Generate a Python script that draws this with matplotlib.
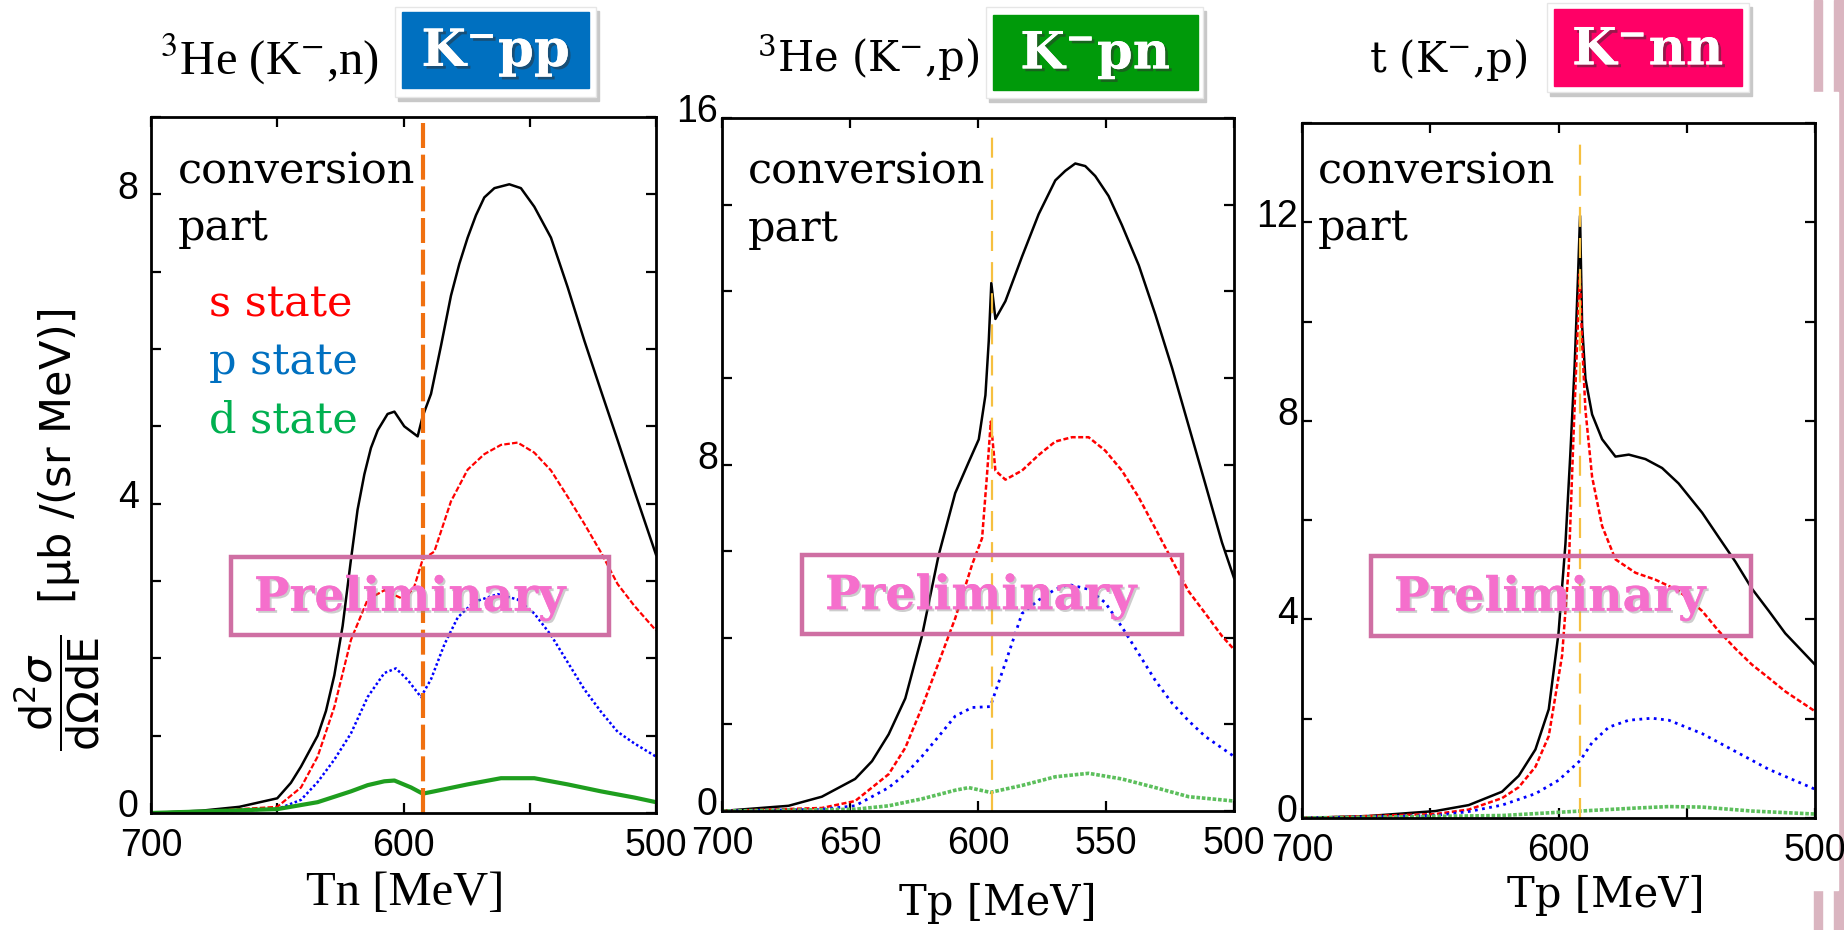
import matplotlib
matplotlib.use("Agg")
import matplotlib.pyplot as plt
import matplotlib.patheffects as pe
from matplotlib.patches import Rectangle
from matplotlib.ticker import FixedLocator, FuncFormatter
from matplotlib.transforms import ScaledTranslation

W, H = 1844, 930

# ---- data (energy in MeV, cross section) ----
# panel 1 : 3He (K-,n)  K-pp
p1_black_t = [700, 680, 665, 650, 644.6, 640.6, 637.3, 634, 630.7, 627.4, 624.1, 620.8, 618.2, 615.5, 612.9,
              610.2, 606.3, 603.6, 599.7, 594.4, 592.4, 589.1, 585.1, 581.2, 577.9, 574.6, 571.3, 568.0, 564,
              558.1, 553.5, 548.2, 541.6, 535.0, 528.4, 521.8, 515.2, 508.6, 500]
p1_black_v = [0, 0.03, 0.08, 0.19, 0.39, 0.6, 0.8, 1.0, 1.32, 1.78, 2.42, 3.28, 3.92, 4.38, 4.72,
              4.95, 5.16, 5.19, 5.0, 4.87, 5.13, 5.42, 6.05, 6.69, 7.1, 7.44, 7.73, 7.96, 8.08,
              8.13, 8.08, 7.84, 7.44, 6.80, 6.11, 5.46, 4.82, 4.17, 3.34]
p1_red_t = [700, 680, 650, 640.6, 634, 627.4, 620.8, 614.2, 607.6, 599.7, 595.7, 592.4, 587.8, 581.2,
            574.6, 568, 561.4, 554.8, 548.2, 541.6, 535, 528.4, 521.8, 515.2, 508.6, 500]
p1_red_v = [0, 0.02, 0.08, 0.33, 0.73, 1.37, 2.24, 2.76, 2.88, 2.76, 2.93, 3.28, 3.38, 4.03,
            4.44, 4.64, 4.76, 4.79, 4.66, 4.43, 4.09, 3.74, 3.37, 2.96, 2.68, 2.36]
p1_blue_t = [700, 680, 650, 640.6, 634, 627.4, 620.8, 614.2, 607.6, 603, 598.3, 593.1, 589.1, 583.8,
             578.5, 572, 562.7, 554.8, 548.2, 541.6, 535, 528.4, 521.8, 515.2, 508.6, 500]
p1_blue_v = [0, 0.01, 0.05, 0.17, 0.4, 0.69, 1.03, 1.5, 1.81, 1.87, 1.72, 1.5, 1.73, 2.18,
             2.53, 2.73, 2.83, 2.76, 2.58, 2.3, 1.95, 1.6, 1.31, 1.05, 0.9, 0.73]
p1_green_t = [700, 650, 634, 620.8, 614.2, 607.6, 603.6, 597, 592.4, 587.8, 574.6, 561.4, 548.2,
              535, 521.8, 508.6, 500]
p1_green_v = [0, 0.05, 0.14, 0.28, 0.36, 0.41, 0.42, 0.33, 0.25, 0.28, 0.37, 0.45, 0.45,
              0.37, 0.28, 0.2, 0.14]

# panel 2 : 3He (K-,p)  K-pn
p2_black_t = [700, 674, 661, 648, 641.4, 634.9, 628.4, 621.9, 615.4, 608.9, 603.6, 599.7, 597.1, 595.8,
              594.8, 593.2, 589.3, 582.8, 576.3, 569.8, 565.9, 562, 558.1, 554.2, 549, 543.8, 537.2,
              530.7, 524.2, 517.7, 511.2, 504.7, 500]
p2_black_v = [0, 0.12, 0.33, 0.74, 1.15, 1.77, 2.6, 4.04, 5.9, 7.34, 8.06, 8.58, 9.6, 10.85,
              12.19, 11.36, 11.77, 12.8, 13.78, 14.56, 14.78, 14.95, 14.89, 14.66, 14.2, 13.53, 12.6,
              11.46, 10.23, 8.89, 7.55, 6.2, 5.38]
p2_red_t = [700, 661, 648, 634.9, 628.4, 621.9, 615.4, 608.9, 602.3, 598.4, 596.5, 595, 593.2, 589.3,
            582.8, 576.3, 569.8, 563.3, 556.8, 550.3, 543.8, 537.2, 530.7, 524.2, 517.7, 511.2, 504.7, 500]
p2_red_v = [0, 0.07, 0.23, 0.85, 1.46, 2.39, 3.42, 4.45, 5.69, 6.3, 7.75, 8.99, 7.86, 7.65,
            7.86, 8.22, 8.53, 8.63, 8.63, 8.32, 7.86, 7.24, 6.52, 5.79, 5.07, 4.56, 4.04, 3.73]
p2_blue_t = [700, 661, 648, 634.9, 628.4, 621.9, 615.4, 608.9, 602.3, 595.2, 589.3, 582.8, 576.3,
             569.8, 564.6, 556.8, 550.3, 543.8, 537.2, 530.7, 524.2, 517.7, 511.2, 500]
p2_blue_v = [0, 0.04, 0.12, 0.54, 0.85, 1.26, 1.72, 2.19, 2.39, 2.41, 3.42, 4.56, 4.87,
             5.12, 5.23, 5.12, 4.81, 4.25, 3.63, 3.01, 2.49, 2.08, 1.72, 1.26]
p2_green_t = [700, 648, 634.9, 621.9, 608.9, 603.6, 595.2, 582.8, 569.8, 556.8, 543.8, 530.7, 517.7, 500]
p2_green_v = [0, 0.04, 0.12, 0.28, 0.48, 0.54, 0.43, 0.59, 0.79, 0.87, 0.74, 0.54, 0.33, 0.23]

# panel 3 : t (K-,p)  K-nn
p3_black_t = [700, 674, 648, 635, 622, 615.5, 609, 603.8, 600, 597.3, 595.4, 593.7, 592.4, 591.6,
              590.8, 589.5, 586.9, 583, 577.8, 572.6, 566.1, 559.6, 553.2, 544, 537.6, 531, 524.6,
              518, 511.6, 500]
p3_black_v = [0, 0.04, 0.14, 0.26, 0.53, 0.85, 1.38, 2.19, 3.72, 5.52, 7.32, 9.12, 10.9, 12.13,
              9.93, 8.85, 8.13, 7.63, 7.28, 7.32, 7.23, 7.05, 6.74, 6.15, 5.66, 5.16, 4.62,
              4.17, 3.72, 3.09]
p3_red_t = [700, 648, 635, 622, 615.5, 609, 603.8, 598.6, 596, 594.1, 592.4, 591.7, 590.8, 589.5,
            586.9, 583, 577.8, 570, 562.2, 553.2, 544, 537.6, 531, 524.6, 518, 511.6, 500]
p3_red_v = [0, 0.08, 0.17, 0.4, 0.62, 1.03, 1.65, 3.27, 5.07, 7.77, 10.02, 10.96, 9.57, 8.22,
            6.87, 5.88, 5.21, 4.94, 4.8, 4.58, 4.17, 3.77, 3.41, 3.09, 2.82, 2.55, 2.15]
p3_blue_t = [700, 648, 635, 622, 609, 600, 591.5, 586.9, 580.4, 572.6, 563.6, 557, 544, 531, 518, 500]
p3_blue_v = [0, 0.05, 0.13, 0.26, 0.49, 0.76, 1.16, 1.52, 1.83, 1.97, 2.01, 1.97, 1.7, 1.34, 0.98, 0.58]
p3_green_t = [700, 622, 591.5, 570, 557, 544, 524.6, 500]
p3_green_v = [0, 0.05, 0.14, 0.2, 0.23, 0.22, 0.14, 0.08]

thresholds = [592.3, 594.6, 591.5]
y_max = [9, 16, 14]
y_step = [1, 2, 2]
y_labels = [[0, 4, 8], [0, 8, 16], [0, 4, 8, 12]]
x_labels = [[700, 600, 500], [700, 650, 600, 550, 500], [700, 600, 500]]
reactions = ["$^{3}$He (K$^{-}$,n)", "$^{3}$He (K$^{-}$,p)", "t (K$^{-}$,p)"]
states = [r"$\mathbf{K^{-}pp}$", r"$\mathbf{K^{-}pn}$", r"$\mathbf{K^{-}nn}$"]
state_colors = ["#0070C0", "#009A0A", "#FF0066"]
x_titles = ["Tn [MeV]", "Tp [MeV]", "Tp [MeV]"]

# ---- layout (pixels of the 1844x930 picture) ----
ax_px = [(151, 656, 117, 813), (722, 1234, 118, 811), (1302, 1815, 123, 818)]
tick_font = ["Liberation Sans Narrow", "Liberation Sans"]


def fx(px):
    return px / W


def fy(py):
    return 1 - py / H


fig = plt.figure(figsize=(W / 100, H / 100), dpi=100)
fig.patch.set_facecolor("white")

# decorative slide border on the right (behind everything)
pink = "#DAB5C0"
fig.patches.append(Rectangle((fx(1834), 0), fx(10), 1, transform=fig.transFigure, color=pink, zorder=-3))
fig.patches.append(Rectangle((fx(1814), fy(92)), fx(8), 92 / H, transform=fig.transFigure, color=pink, zorder=-3))
fig.patches.append(Rectangle((fx(1814), 0), fx(8), 40 / H, transform=fig.transFigure, color=pink, zorder=-3))
fig.patches.append(Rectangle((fx(1780), fy(890)), fx(58), 798 / H, transform=fig.transFigure,
                             color="white", zorder=-2))

# y tick labels sit a little above their ticks in the original
raise_lab = ScaledTranslation(0, 7 / 72, fig.dpi_scale_trans)

axes = []
for i, (l, r, t, b) in enumerate(ax_px):
    ax = fig.add_axes([fx(l), fy(b), (r - l) / W, (b - t) / H])
    ax.set_xlim(700, 500)
    ax.set_ylim(0, y_max[i])
    for s in ax.spines.values():
        s.set_linewidth(2.0)
    ax.xaxis.set_major_locator(FixedLocator(list(range(700, 499, -50))))
    ax.yaxis.set_major_locator(FixedLocator(list(range(0, y_max[i] + 1, y_step[i]))))
    xl = x_labels[i]
    yl = y_labels[i]
    ax.xaxis.set_major_formatter(FuncFormatter(lambda v, p, xl=xl: "%d" % v if round(v) in xl else ""))
    ax.yaxis.set_major_formatter(FuncFormatter(lambda v, p, yl=yl: "%d" % v if round(v) in yl else ""))
    ax.tick_params(direction="in", top=True, right=True, length=7, width=1.6, labelsize=27)
    ax.tick_params(axis="x", pad=11)
    ax.tick_params(axis="y", pad=9 if i == 0 else 3)
    for lab in ax.get_xticklabels() + ax.get_yticklabels():
        lab.set_family(tick_font)
    for tk in ax.yaxis.get_major_ticks():
        tk.label1.set_transform(tk.label1.get_transform() + raise_lab)
    axes.append(ax)

ax1, ax2, ax3 = axes

# curves
ax1.plot(p1_black_t, p1_black_v, color="black", lw=1.8)
ax1.plot(p1_red_t, p1_red_v, color="red", lw=1.6, ls=(0, (2.5, 1)))
ax1.plot(p1_blue_t, p1_blue_v, color="blue", lw=1.8, ls=(0, (1, 1)))
ax1.plot(p1_green_t, p1_green_v, color="#1E9E1E", lw=3)
ax1.axvline(thresholds[0], color="#F07010", lw=3, ls=(0, (6, 1.6)))

ax2.plot(p2_black_t, p2_black_v, color="black", lw=1.8)
ax2.plot(p2_red_t, p2_red_v, color="red", lw=1.8, ls=(0, (2, 1)))
ax2.plot(p2_blue_t, p2_blue_v, color="blue", lw=2, ls=(0, (1, 1.6)))
ax2.plot(p2_green_t, p2_green_v, color="#5CBF5C", lw=2.6, ls=(0, (1, 0.5)))
ax2.axvline(thresholds[1], ymax=0.977, color="#F6C040", lw=1.6, ls=(0, (9, 5)))

ax3.plot(p3_black_t, p3_black_v, color="black", lw=1.8)
ax3.plot(p3_red_t, p3_red_v, color="red", lw=1.8, ls=(0, (2, 1)))
ax3.plot(p3_blue_t, p3_blue_v, color="blue", lw=2, ls=(0, (1, 1.6)))
ax3.plot(p3_green_t, p3_green_v, color="#5CBF5C", lw=2.6, ls=(0, (1, 0.5)))
ax3.axvline(thresholds[2], ymax=0.981, color="#F6C040", lw=1.6, ls=(0, (9, 5)))

# in-plot texts
serif_wide = ["DejaVu Serif"]
times = ["Liberation Serif", "DejaVu Serif"]
conv_px = [(178, 183, 240), (748, 184, 241), (1318, 183, 240)]
for x, y1, y2 in conv_px:
    fig.text(fx(x), fy(y1), "conversion", family=serif_wide, size=31, va="baseline")
    fig.text(fx(x), fy(y2), "part", family=serif_wide, size=31, va="baseline")

fig.text(fx(209), fy(316), "s state", family=serif_wide, size=31, color="#FF0000", va="baseline")
fig.text(fx(209), fy(374), "p state", family=serif_wide, size=31, color="#0070C0", va="baseline")
fig.text(fx(209), fy(432), "d state", family=serif_wide, size=31, color="#00B050", va="baseline")

# "Preliminary" stamps
prelim_px = [(231, 609, 557, 635), (802, 1182, 555, 634), (1371, 1751, 556, 636)]
for l, r, t, b in prelim_px:
    fig.patches.append(Rectangle((fx(l), fy(b)), (r - l) / W, (b - t) / H, transform=fig.transFigure,
                                 fill=False, edgecolor="#CF6FA3", lw=3.2, zorder=5))
    fig.text(fx(l + 23), fy((t + b) / 2 + 2), "Preliminary", family=serif_wide, weight="bold", size=34,
             color="#F56FCC", va="center", ha="left", zorder=6,
             path_effects=[pe.withSimplePatchShadow(offset=(1.5, -1.5), shadow_rgbFace="#909090", alpha=0.45),
                           pe.Normal()])

# reaction titles
fig.text(fx(270), fy(59), reactions[0], family=times, math_fontfamily="stix", size=35,
         ha="center", va="center")
fig.text(fx(868), fy(58), reactions[1], family=serif_wide, math_fontfamily="dejavuserif", size=30,
         ha="center", va="center")
fig.text(fx(1448), fy(60), reactions[2], family=serif_wide, math_fontfamily="dejavuserif", size=30,
         ha="center", va="center")

# state badges
badge_px = [((395, 596, 7, 97), (402, 589, 12, 88)),
            ((986, 1203, 7, 98), (993, 1198, 15, 90)),
            ((1547, 1749, 3, 92), (1554, 1742, 9, 86))]
for i, (outer, inner) in enumerate(badge_px):
    l, r, t, b = outer
    fig.patches.append(Rectangle((fx(l + 3), fy(b + 4)), (r - l) / W, (b - t) / H, transform=fig.transFigure,
                                 color="#C8C8C8", zorder=2))
    fig.patches.append(Rectangle((fx(l), fy(b)), (r - l) / W, (b - t) / H, transform=fig.transFigure,
                                 facecolor="white", edgecolor="#E6E6E6", lw=1, zorder=3))
    l, r, t, b = inner
    fig.patches.append(Rectangle((fx(l), fy(b)), (r - l) / W, (b - t) / H, transform=fig.transFigure,
                                 color=state_colors[i], zorder=4))
    fig.text(fx((l + r) / 2), fy((t + b) / 2 + 3), states[i], math_fontfamily="dejavuserif", size=37,
             color="white", ha="center", va="center", zorder=6,
             path_effects=[pe.withSimplePatchShadow(offset=(2, -2), shadow_rgbFace="#303030", alpha=0.5),
                           pe.Normal()])

# axis titles
fig.text(fx(405), fy(893), x_titles[0], family=times, size=35, ha="center", va="center")
fig.text(fx(998), fy(903), x_titles[1], family=serif_wide, size=30, ha="center", va="center")
fig.text(fx(1606), fy(895), x_titles[2], family=serif_wide, size=30, ha="center", va="center")

fig.text(fx(57), fy(530), r"$\dfrac{\mathrm{d}^2\sigma}{\mathrm{d\Omega dE}}$  [μb /(sr MeV)]",
         size=31, rotation=90, ha="center", va="center")

fig.savefig("out.png", dpi=100)
plt.close(fig)
